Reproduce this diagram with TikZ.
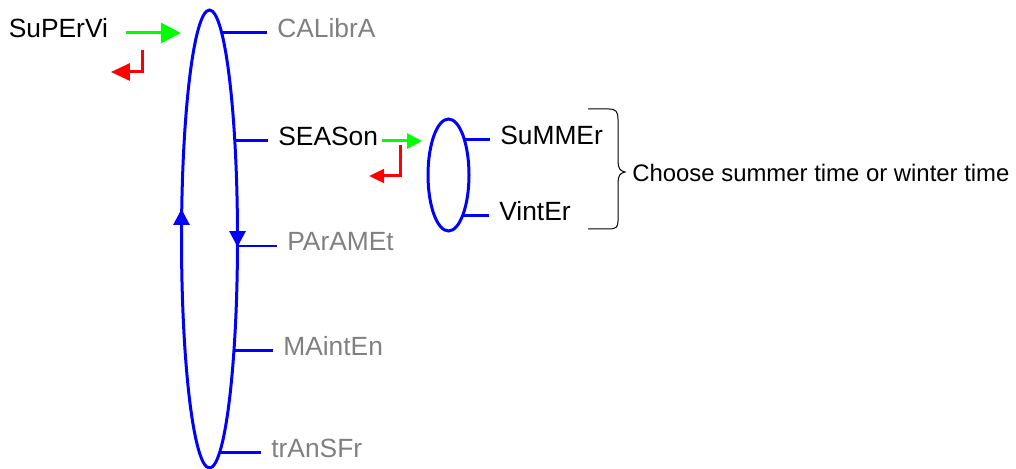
\documentclass[tikz,border=0pt]{standalone}
\usepackage{fontspec}
\setmainfont{Liberation Sans}
\usetikzlibrary{shapes.geometric,arrows.meta}

\begin{document}
\begin{tikzpicture}[x=0.02cm, y=-0.02cm,
    item/.style={anchor=west, inner xsep=0.2cm, inner ysep=0pt, text height=0.38cm, text depth=0.18cm, font=\fontsize{15pt}{18pt}\selectfont},
    greyed/.style={item, text=gray},
    ring/.style={ellipse, draw=blue, line width=0.06cm, inner sep=0pt, outer sep=0pt},
    stem/.style={blue, line width=0.06cm},
    turn/.style={blue, line width=0.06cm, -{Triangle[length=0.32cm, width=0.32cm]}},
    enter/.style={green, line width=0.06cm, -{Triangle[length=#1, width=#1]}},
    esc/.style={red, line width=0.06cm, -{Triangle[length=#1, width=0.9*#1]}}]
    \useasboundingbox (0,0) rectangle (1016,469);

    % main menu loop
    \node[ring, minimum width=1.12cm, minimum height=9.16cm] (menu) at (209.5,239) {};
    \draw[turn] ([yshift=0.2cm]menu.east) -- ++(0,18);
    \draw[turn] ([yshift=-0.2cm]menu.west) -- ++(0,-40);

    \node[item] (supervi) at (-1.5,33) {SuPErVi};
    \node[greyed] (calibra) at (267,33) {CALibrA};
    \node[item] (season) at (268,141) {SEASon};
    \node[greyed] (paramet) at (277,246) {PArAMEt};
    \node[greyed] (mainten) at (273,350) {MAintEn};
    \node[greyed] (transfr) at (261,452) {trAnSFr};

    % items hang off the right side of the loop
    \draw[stem] (calibra.west) -- (calibra.west -| menu.86.6);
    \draw[stem] (season.west) -- (season.west -| menu.75.5);
    \draw[stem] (paramet.west) -- (paramet.west -| menu.-14);
    \draw[stem] (mainten.west) -- (mainten.west -| menu.-77.6);
    \draw[stem] (transfr.west) -- (transfr.west -| menu.-87.2);

    % enter / escape keys
    \draw[enter=0.4cm] ([xshift=0.16cm]supervi.east) -- ([xshift=-0.35cm]supervi.east -| menu.93.4);
    \coordinate (esc1) at (142,50);
    \draw[esc=0.38cm] (esc1) |- ++(-31,22);

    % season sub menu
    \node[ring, minimum width=0.82cm, minimum height=2.24cm] (sub) at (448.5,175) {};
    \node[item] (summer) at (490,140) {SuMMEr};
    \node[item] (vinter) at (489,216) {VintEr};
    \draw[stem] (summer.west) -- (summer.west -| sub.65.4);
    \draw[stem] (vinter.west) -- (vinter.west -| sub.-71.2);

    \draw[enter=0.3cm] ([xshift=-0.13cm]season.east) -- ([xshift=-0.12cm]season.east -| sub.west);
    \coordinate (esc2) at (400,145);
    \draw[esc=0.3cm] (esc2) |- ++(-31,31);

    % brace and note
    \draw[line width=0.02cm] (588,109) -- (609,109) .. controls (616,109) and (618,112) .. (618,119)
        -- (618,161) .. controls (618,168) and (620,171) .. (625,172)
        .. controls (620,173) and (618,176) .. (618,183) -- (618,221)
        .. controls (618,227) and (616,229) .. (609,229) -- (588,229);
    \node[anchor=base west, inner sep=0pt, font=\fontsize{13.6pt}{16pt}\selectfont] (choose) at (632,182) {Choose summer time or winter time};
\end{tikzpicture}
\end{document}
